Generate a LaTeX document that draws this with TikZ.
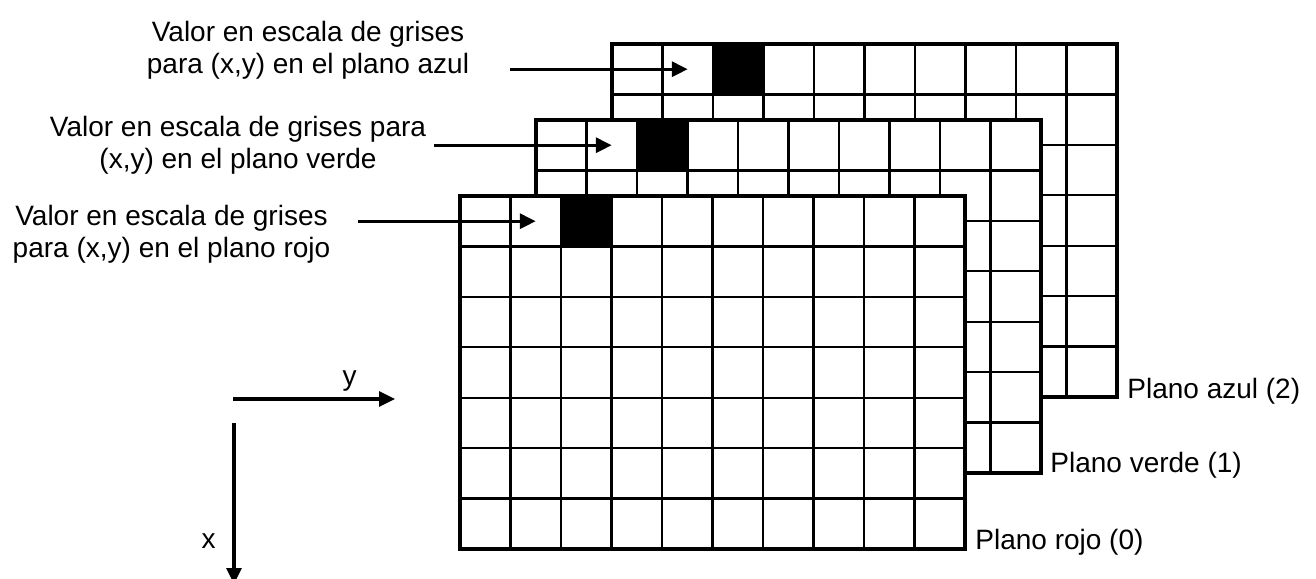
\documentclass[tikz,border=0pt]{standalone}
\usepackage{fontspec}
\setmainfont{Liberation Sans}
\usetikzlibrary{arrows.meta}

\begin{document}
\begin{tikzpicture}[
    x=0.5pt, y=-0.5pt,
    font=\fontsize{14}{16}\selectfont,
    >={Triangle[length=8pt, width=7.5pt]},
    rejilla/.style={line width=1.1pt, draw=black},
    borde/.style={line width=1.7pt, draw=black},
    celda/.style={fill=black},
    nota/.style={align=center, inner sep=0pt},
    plano/.style={anchor=base west, inner sep=0pt},
    eje/.style={anchor=base, inner sep=0pt},
    arr/.style={->, line width=1.6pt}
]
\useasboundingbox (0,0) rectangle (1316,578);

% Three colour planes drawn back to front, 10 x 7 cells each
\foreach \d/\nombre in {152/azul, 76/verde, 0/rojo} {
  \begin{scope}[shift={(\d,-\d)}]
    \fill[white] (460,196) rectangle (965,549);
    \fill[celda] (561,196) rectangle (611.5,246.4);
    \foreach \i in {1,...,9}
      \draw[rejilla] (460+\i*50.5,196) -- (460+\i*50.5,549);
    \foreach \j in {1,...,6}
      \draw[rejilla] (460,196+\j*50.43) -- (965,196+\j*50.43);
    \draw[borde] (460,196) rectangle (965,549);
    \coordinate (\nombre-esq) at (965,549);
    \coordinate (\nombre-pix) at (535.75,221.2);
  \end{scope}
}

% Plane names at the lower right corners
\node[plano] (lblazul) at ([xshift=5pt,yshift=-0.5pt]azul-esq) {Plano azul (2)};
\node[plano] (lblverde) at ([xshift=4.5pt,yshift=0.5pt]verde-esq) {Plano verde (1)};
\node[plano] (lblrojo) at ([xshift=5pt]rojo-esq) {Plano rojo (0)};

% Notes pointing at the pixel (x,y) of each plane
\node[nota] (notaazul) at (308,50.5)
    {Valor en escala de grises\\para (x,y) en el plano azul};
\node[nota] (notaverde) at (238,145.5)
    {Valor en escala de grises para\\(x,y) en el plano verde};
\node[nota] (notarojo) at (171.5,234)
    {Valor en escala de grises\\para (x,y) en el plano rojo};

\coordinate (iniazul) at ([xshift=-89pt]azul-pix);
\coordinate (iniverde) at ([xshift=-89pt]verde-pix);
\coordinate (inirojo) at ([xshift=-89pt]rojo-pix);
\draw[arr] (iniazul) -- (azul-pix);
\draw[arr] (iniverde) -- (verde-pix);
\draw[arr] (inirojo) -- (rojo-pix);

% Axes
\coordinate (origen) at (233,399);
\coordinate (ejey) at (395,399);
\coordinate (ejexini) at (234,423);
\coordinate (ejex) at (234,584);
\draw[arr] (origen) -- (ejey);
\draw[arr] (ejexini) -- (ejex);
\node[eje] (lbly) at (349.5,385) {y};
\node[eje] (lblx) at (208.5,548) {x};

\end{tikzpicture}
\end{document}
